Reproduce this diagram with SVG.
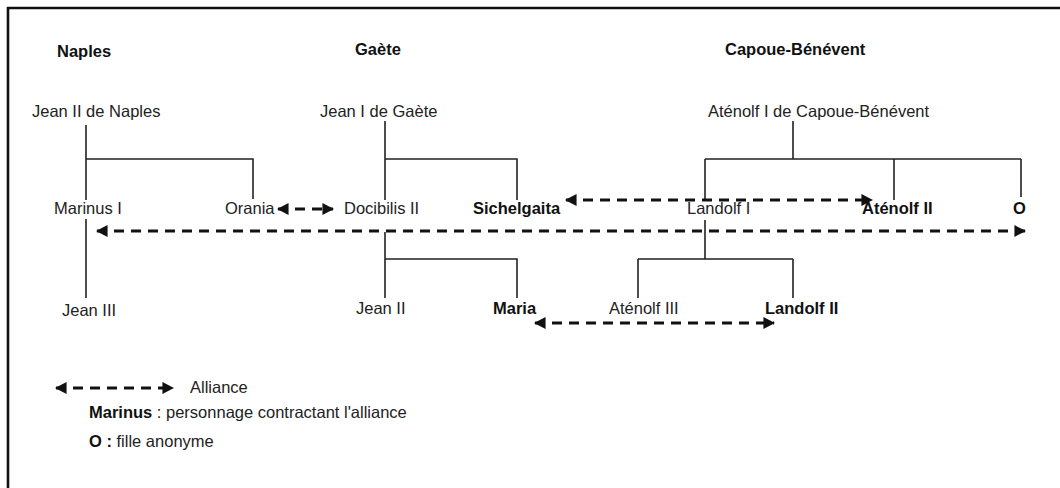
<svg xmlns="http://www.w3.org/2000/svg" width="1060" height="488" viewBox="0 0 1060 488">
<defs>
<marker id="ah" viewBox="0 0 10 10" refX="9" refY="5" markerWidth="4.2" markerHeight="4.2" orient="auto-start-reverse" markerUnits="strokeWidth">
<path d="M0,0 L10,5 L0,10 z" fill="#111"/>
</marker>
<style>
text{font-family:"Liberation Sans",Arial,sans-serif;font-size:16.5px;fill:#222}
.b{font-weight:bold;fill:#111}
.t{font-weight:bold;font-size:16.5px;fill:#111}
.tree{stroke:#222;stroke-width:1.6;fill:none}
.all{stroke:#111;stroke-width:2.8;fill:none;stroke-dasharray:10 7;marker-start:url(#ah);marker-end:url(#ah)}
</style>
</defs>
<rect width="1060" height="488" fill="#fff"/>
<path d="M7,8 H1060 M8,7 V488" stroke="#111" stroke-width="2.6" fill="none"/>

<g id="titles">
<text class="t" x="57" y="57">Naples</text>
<text class="t" x="355" y="55">Gaète</text>
<text class="t" x="725" y="55">Capoue-Bénévent</text>
</g>

<g id="tree-lines">
<path class="tree" d="M86,125 V200 M86,159 H253 V199 M86,219 V298"/>
<path class="tree" d="M385,121 V200 M385,159 H517 V200 M385,232 V298 M385,259 H517 V298"/>
<path class="tree" d="M793,121 V159 M705,159 H1021 M705,159 V200 M894,159 V200 M1021,159 V197"/>
<path class="tree" d="M705,220 V259 M638,259 H793 M638,259 V298 M793,259 V298"/>
</g>

<g id="n-jean2naples"><text x="32" y="117">Jean II de Naples</text></g>
<g id="n-marinus"><text x="54" y="214">Marinus I</text></g>
<g id="n-orania"><text x="225" y="214">Orania</text></g>
<g id="n-jean3"><text x="62" y="316">Jean III</text></g>
<g id="n-jean1gaete"><text x="320" y="117">Jean I de Gaète</text></g>
<g id="n-docibilis"><text x="344" y="214">Docibilis II</text></g>
<g id="n-sichelgaita"><text class="b" x="473" y="214">Sichelgaita</text></g>
<g id="n-jean2"><text x="356" y="314">Jean II</text></g>
<g id="n-maria"><text class="b" x="493" y="314">Maria</text></g>
<g id="n-atenolf1"><text x="708" y="117">Aténolf I de Capoue-Bénévent</text></g>
<g id="n-landolf1"><text x="687" y="214">Landolf I</text></g>
<g id="n-atenolf2"><text class="b" x="862" y="214">Aténolf II</text></g>
<g id="n-o"><text class="b" x="1013" y="214">O</text></g>
<g id="n-atenolf3"><text x="609" y="314">Aténolf III</text></g>
<g id="n-landolf2"><text class="b" x="765" y="314">Landolf II</text></g>

<g id="connectors">
<path class="all" d="M278,209 H333"/>
<path class="all" d="M566,200 H872"/>
<path class="all" d="M97,231 H1025"/>
<path class="all" d="M535,323 H774"/>
</g>

<g id="legend">
<path class="all" d="M56,388 H173"/>
<text x="190" y="393">Alliance</text>
<text x="89" y="418" font-size="14.5"><tspan class="b">Marinus</tspan> : personnage contractant l'alliance</text>
<text x="89" y="447" font-size="14.5"><tspan class="b">O :</tspan> fille anonyme</text>
</g>
</svg>
